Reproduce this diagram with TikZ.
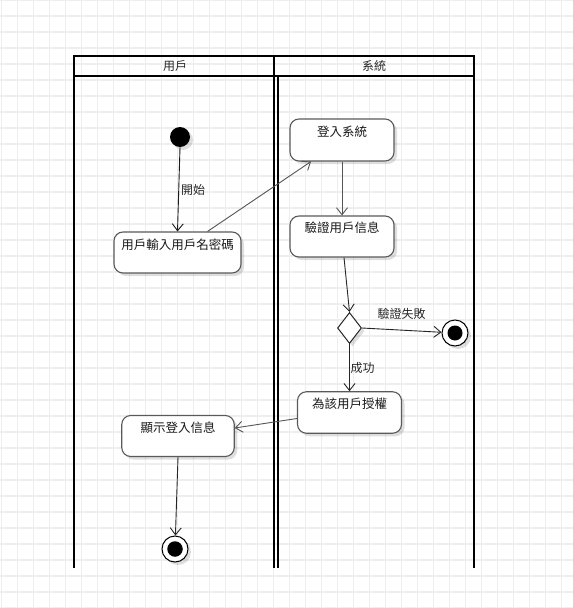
\documentclass[tikz,border=0pt]{standalone}
\usepackage{fontspec}
\newfontfamily\cjk{Noto Sans CJK TC}
\usetikzlibrary{arrows.meta,shapes.geometric,shadows,calc}
\definecolor{gridc}{HTML}{EEEEEE}
\definecolor{edgec}{HTML}{555555}
\definecolor{boxc}{HTML}{5A5A5A}
\tikzset{
  gridline/.style={draw=gridc, line width=1.2pt},
  poolline/.style={draw=black, line width=2pt},
  softshadow/.style={drop shadow={opacity=0.13, shadow xshift=3pt, shadow yshift=-3pt, fill=black}},
  actbox/.style={draw=boxc, line width=1.1pt, rounded corners=9pt, fill=white, softshadow, inner sep=0pt},
  conn/.style={draw=edgec, line width=0.9pt, -{Straight Barb[length=7pt,width=11pt,line width=0.9pt]}},
  lbl/.style={font=\cjk\fontsize{12}{14}\selectfont, inner sep=0.5pt, text=black!85},
  hdr/.style={font=\cjk\fontsize{12}{14}\selectfont, inner sep=0pt, text=black!85},
  boxtext/.style={font=\cjk\fontsize{12.5}{15}\selectfont, text=black!90},
}
\begin{document}
\begin{tikzpicture}[x=1pt,y=-1pt]
\useasboundingbox (0,0) rectangle (573,608);
\fill[white] (0,0) rectangle (573,608);
% grid
\foreach \i in {0,...,35} \draw[gridline] ({16*\i+1.5},0) -- ({16*\i+1.5},608);
\foreach \j in {0,...,38} \draw[gridline] (0,{16*\j}) -- (573,{16*\j});
% pool
\draw[poolline] (73.5,568) -- (73.5,55.5) -- (474,55.5) -- (474,568);
\draw[poolline] (73.5,76) -- (474,76);
\draw[poolline] (274,55.5) -- (274,568);
\draw[poolline] (277.7,76) -- (277.7,568);
\node[hdr] (h1) at (175,65.5) {用戶};
\node[hdr] (h2) at (374,65.5) {系統};
% nodes
\node[circle, fill=black, minimum size=20pt, inner sep=0pt, softshadow] (init) at (180,137) {};
\node[actbox, minimum width=127pt, minimum height=41pt,
  label={[boxtext, anchor=center, yshift=-13pt]north:用戶輸入用戶名密碼}] (b1) at (177.5,252.5) {};
\node[actbox, minimum width=104pt, minimum height=42pt,
  label={[boxtext, anchor=center, yshift=-13pt]north:登入系統}] (b2) at (342,140) {};
\node[actbox, minimum width=104pt, minimum height=41pt,
  label={[boxtext, anchor=center, yshift=-12pt]north:驗證用戶信息}] (b3) at (342,236.5) {};
\node[diamond, draw=black!85, line width=1pt, fill=white, minimum width=24pt, minimum height=31pt, inner sep=0pt, softshadow] (dia) at (349.5,328) {};
\node[circle, draw=black, line width=1pt, fill=white, minimum size=26pt, inner sep=0pt, softshadow] (fin1) at (455,333) {};
\node[circle, fill=black, minimum size=15pt, inner sep=0pt] (fin1c) at (fin1) {};
\node[actbox, minimum width=104pt, minimum height=41.5pt,
  label={[boxtext, anchor=center, yshift=-13pt]north:為該用戶授權}] (b4) at (349.5,412.5) {};
\node[actbox, minimum width=112.5pt, minimum height=41pt,
  label={[boxtext, anchor=center, yshift=-12.5pt]north:顯示登入信息}] (b5) at (178,436) {};
\node[circle, draw=black, line width=1pt, fill=white, minimum size=26pt, inner sep=0pt, softshadow] (fin2) at (175,549) {};
\node[circle, fill=black, minimum size=15.5pt, inner sep=0pt] (fin2c) at (fin2) {};
% connectors
\draw[conn, draw=black!90] (init.south) -- (b1.north);
\draw[conn] ($(b1.north)+(30,0)$) -- ($(b2.south)+(-31,0)$);
\draw[conn] (b2.south) -- (b3.north);
\draw[conn, draw=black!85] ($(b3.south)+(2,0)$) -- (dia.north);
\draw[conn, draw=black!85] (dia.east) -- (fin1);
\draw[conn, draw=black!85] (dia.south) -- (b4.north);
\draw[conn] ($(b4.west)+(0,6)$) -- ($(b5.east)+(0,-8)$);
\draw[conn, draw=black!85] (b5.south) -- (fin2);
% labels
\node[lbl, anchor=west] (l1) at (180.5,190) {開始};
\node[lbl] (l2) at (401.5,314) {驗證失敗};
\node[lbl, anchor=west] (l3) at (350,367.5) {成功};
\end{tikzpicture}
\end{document}
